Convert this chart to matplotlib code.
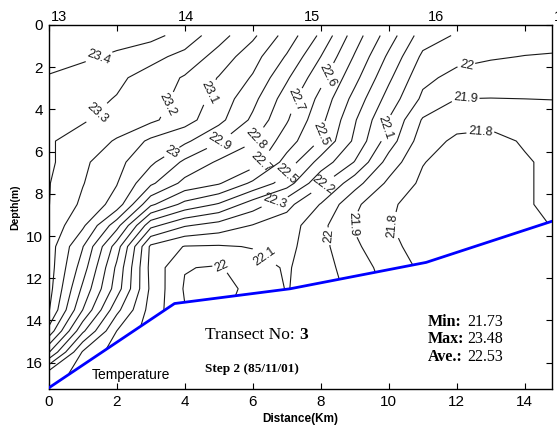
import numpy as np
import matplotlib
matplotlib.use("Agg")
import matplotlib.pyplot as plt
from matplotlib.patches import Polygon
import matplotlib.transforms as mtransforms

# ---------------- data ----------------
dist_km = [0, 1, 2, 3, 4, 5, 6, 7, 8, 9, 10, 11, 12, 13, 14, 14.8]
depth_m = [0.5, 1.5, 2.5, 3.5, 4.5, 5.5, 6.5, 7.5, 8.5, 9.5, 10.5, 11.5,
           12.5, 13.5, 14.5, 15.5, 16.5, 17.5]

temp = [
    [23.47, 23.46, 23.45, 23.43, 23.36, 23.24, 23.12, 22.96, 22.78, 22.55, 22.35, 22.15, 22.09, 22.06, 22.05, 22.05],
    [23.45, 23.42, 23.38, 23.33, 23.27, 23.16, 23.04, 22.89, 22.70, 22.49, 22.28, 22.08, 22.03, 22.01, 21.997, 21.99],
    [23.39, 23.35, 23.32, 23.26, 23.19, 23.095, 22.99, 22.815, 22.63, 22.43, 22.22, 22.025, 21.97, 21.95, 21.94, 21.94],
    [23.36, 23.33, 23.295, 23.24, 23.17, 23.06, 22.93, 22.75, 22.57, 22.365, 22.16, 21.98, 21.90, 21.898, 21.90, 21.902],
    [23.33, 23.31, 23.26, 23.22, 23.14, 23.03, 22.88, 22.71, 22.53, 22.31, 22.095, 21.89, 21.84, 21.83, 21.84, 21.86],
    [23.31, 23.26, 23.19, 23.08, 23.02, 22.91, 22.805, 22.65, 22.49, 22.28, 22.05, 21.846, 21.78, 21.77, 21.81, 21.83],
    [23.32, 23.22, 23.13, 23.02, 22.88, 22.785, 22.75, 22.56, 22.36, 22.195, 21.958, 21.805, 21.75, 21.74, 21.79, 21.82],
    [23.305, 23.205, 23.105, 22.92, 22.77, 22.71, 22.58, 22.45, 22.22, 22.04, 21.878, 21.78, 21.74, 21.74, 21.79, 21.82],
    [23.303, 23.18, 23.06, 22.72, 22.57, 22.49, 22.35, 22.23, 22.095, 21.92, 21.815, 21.76, 21.73, 21.74, 21.79, 21.82],
    [23.27, 23.12, 22.84, 22.43, 22.31, 22.26, 22.195, 22.15, 22.03, 21.89, 21.805, 21.76, 21.74, 21.75, 21.78, 21.802],
    [23.25, 23.005, 22.65, 22.18, 22.095, 22.09, 22.105, 22.13, 22.03, 21.92, 21.82, 21.77, 21.76, 21.77, 21.79, 21.81],
    [23.25, 22.95, 22.58, 22.17, 22.005, 21.99, 22.06, 22.11, 22.04, 21.95, 21.86, 21.78, 21.77, 21.78, 21.79, 21.82],
    [23.24, 22.88, 22.55, 22.18, 21.99, 21.96, 22.03, 22.105, 22.05, 21.97, 21.88, 21.79, 21.79, 21.79, 21.81, 21.83],
    [23.21, 22.80, 22.43, 22.16, 22.005, 21.98, 22.04, 22.105, 22.06, 21.98, 21.89, 21.81, 21.79, 21.81, 21.82, 21.84],
    [23.07, 22.62, 22.30, 22.15, 22.02, 21.995, 22.05, 22.105, 22.06, 21.98, 21.89, 21.81, 21.79, 21.81, 21.82, 21.84],
    [22.81, 22.39, 22.25, 22.15, 22.02, 21.995, 22.05, 22.105, 22.06, 21.98, 21.89, 21.81, 21.79, 21.81, 21.82, 21.84],
    [22.46, 22.36, 22.28, 22.15, 22.02, 21.995, 22.05, 22.105, 22.06, 21.98, 21.89, 21.81, 21.79, 21.81, 21.82, 21.84],
    [22.44, 22.38, 22.30, 22.15, 22.02, 21.995, 22.05, 22.105, 22.06, 21.98, 21.89, 21.81, 21.79, 21.81, 21.82, 21.84],
]

levels = [21.8, 21.9, 22.0, 22.1, 22.2, 22.3, 22.4, 22.5, 22.6, 22.7,
          22.8, 22.9, 23.0, 23.1, 23.2, 23.3, 23.4]

bottom_x = [0, 3.7, 7.1, 11.1, 14.8]
bottom_d = [17.2, 13.2, 12.5, 11.25, 9.3]

station_x = [0, 3.75, 7.45, 11.1, 14.8]
station_names = ["13", "14", "15", "16", "17"]

stats_names = ["Min:", "Max:", "Ave.:"]
stats_values = ["21.73", "23.48", "22.53"]

# contour label anchor points (distance, depth)
label_pts = [(1.5, 1.6), (1.5, 4.3), (3.65, 3.9), (4.75, 3.2), (3.57, 5.9),
             (5.04, 5.6), (6.13, 5.45), (7.3, 3.6), (6.3, 6.6), (8.2, 2.4),
             (8.05, 5.2), (7.1, 7.2), (6.65, 8.4), (8.13, 7.7), (9.75, 4.8),
             (6.45, 10.75), (12.25, 1.66), (8.3, 10.0), (5.0, 11.7),
             (12.25, 3.4), (9.05, 9.5), (12.7, 5.1), (10.0, 9.5)]

# ---------------- plot ----------------
plt.rcParams['font.family'] = ['Liberation Sans', 'DejaVu Sans']
fig = plt.figure(figsize=(5.57, 4.28), dpi=100)
ax = fig.add_axes([0.0874, 0.0911, 0.9036, 0.8505])

X, Y = np.meshgrid(dist_km, depth_m)
T = np.array(temp)
cs = ax.contour(X, Y, T, levels=levels, colors='#1a1a1a', linewidths=0.8)

water = Polygon(list(zip([0, 14.8] + bottom_x[::-1], [0, 0] + bottom_d[::-1])),
                closed=True, transform=ax.transData, facecolor='none', edgecolor='none')
ax.add_patch(water)
cs.set_clip_path(water)

ax.clabel(cs, fmt='%g', fontsize=9, inline=True, inline_spacing=2,
          manual=label_pts)

ax.plot(bottom_x, bottom_d, color='#0000ff', lw=2.0, solid_capstyle='round', zorder=5)

ax.set_xlim(0, 14.8)
ax.set_ylim(17.25, 0)
ax.set_xticks([0, 2, 4, 6, 8, 10, 12, 14])
ax.set_yticks([0, 2, 4, 6, 8, 10, 12, 14, 16])
ax.tick_params(direction='in', top=True, right=True, labelsize=11,
               length=4, width=0.8, pad=4)
for s in ax.spines.values():
    s.set_linewidth(1.0)

ax.set_xlabel('Distance(Km)', fontsize=8.5, fontweight='bold', labelpad=3)
ax.set_ylabel('Depth(m)', fontsize=7.5, fontweight='bold', labelpad=4)

trans = mtransforms.blended_transform_factory(ax.transData, ax.transAxes)
for sx, name in zip(station_x, station_names):
    ax.text(sx + 0.05, 1.003, name, transform=trans, ha='left', va='bottom',
            fontsize=10.5, clip_on=False)

ax.text(2.43, 16.6, 'Temperature', fontsize=10, ha='center', va='center')
t1 = ax.text(4.6, 14.7, 'Transect No: ', family='Liberation Serif', fontsize=12.5,
             ha='left', va='center')
ax.annotate('3', xy=(1, 0.5), xycoords=t1, family='Liberation Serif', fontsize=12.5,
            fontweight='bold', ha='left', va='center')
ax.text(4.6, 16.3, 'Step 2 (85/11/01)', family='Liberation Serif', fontsize=9.5,
        fontweight='bold', ha='left', va='center')

for i, (nm, val) in enumerate(zip(stats_names, stats_values)):
    yy = 14.08 + 0.82 * i
    ax.text(11.15, yy, nm, family='Liberation Serif', fontsize=11.5,
            fontweight='bold', ha='left', va='center')
    ax.text(12.3, yy, val, family='Liberation Serif',
            fontsize=11.5, ha='left', va='center')

fig.savefig('out.png', dpi=100)
